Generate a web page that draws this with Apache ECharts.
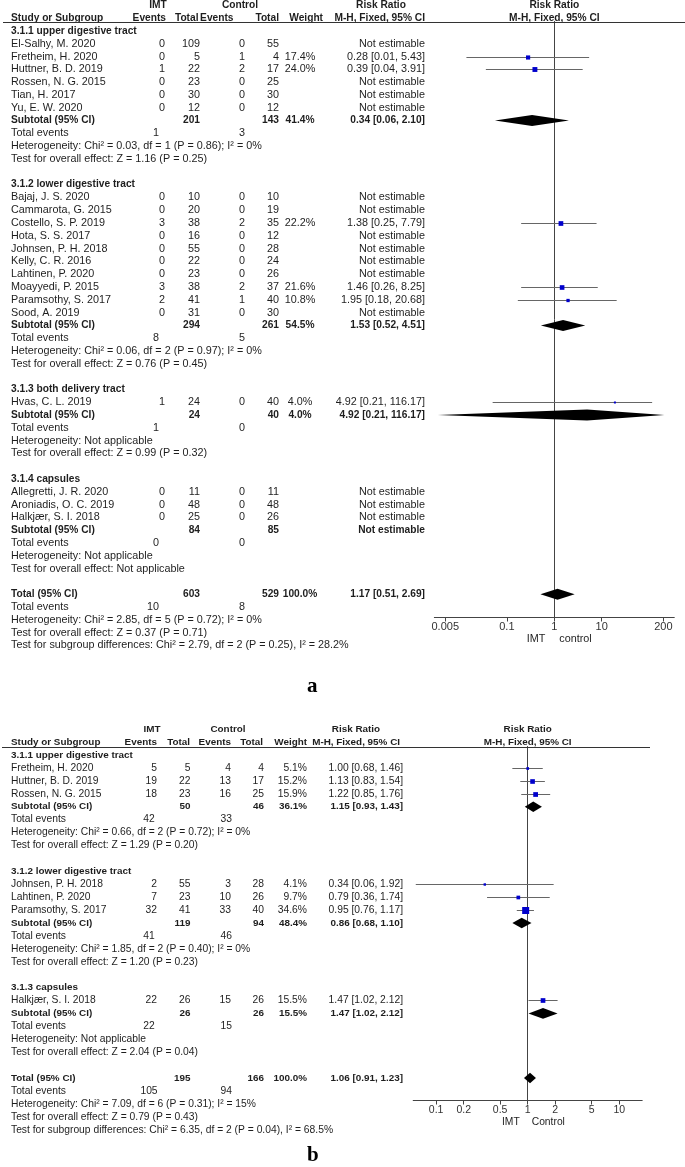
<!DOCTYPE html>
<html><head><meta charset="utf-8">
<script src="https://cdn.jsdelivr.net/npm/echarts@6/dist/echarts.min.js"></script>
<style>html,body{margin:0;padding:0;background:#fff}#c{width:685px;height:1167px}</style>
</head><body><div id="c"></div>
<script>
// ================= Plot a data =================
const aGroupNames = ['3.1.1 upper digestive tract','3.1.2 lower digestive tract','3.1.3 both delivery tract','3.1.4 capsules'];
const aStudyGroup = [0,0,0,0,0,0, 1,1,1,1,1,1,1,1,1,1, 2, 3,3,3];
const aStudyNames = ['El-Salhy, M. 2020','Fretheim, H. 2020','Huttner, B. D. 2019','Rossen, N. G. 2015','Tian, H. 2017','Yu, E. W. 2020',
  'Bajaj, J. S. 2020','Cammarota, G. 2015','Costello, S. P. 2019','Hota, S. S. 2017','Johnsen, P. H. 2018','Kelly, C. R. 2016','Lahtinen, P. 2020','Moayyedi, P. 2015','Paramsothy, S. 2017','Sood, A. 2019',
  'Hvas, C. L. 2019',
  'Allegretti, J. R. 2020','Aroniadis, O. C. 2019','Halkjær, S. I. 2018'];
const aImtEvents = [0,0,1,0,0,0, 0,0,3,0,0,0,0,3,2,0, 1, 0,0,0];
const aImtTotal  = [109,5,22,23,30,12, 10,20,38,16,55,22,23,38,41,31, 24, 11,48,25];
const aCtlEvents = [0,1,2,0,0,0, 0,0,2,0,0,0,0,2,1,0, 0, 0,0,0];
const aCtlTotal  = [55,4,17,25,30,12, 10,19,35,12,28,24,26,37,40,30, 40, 11,48,26];
const aWeight    = [null,17.4,24.0,null,null,null, null,null,22.2,null,null,null,null,21.6,10.8,null, 4.0, null,null,null];
const aCIText    = ['Not estimable','0.28 [0.01, 5.43]','0.39 [0.04, 3.91]','Not estimable','Not estimable','Not estimable',
  'Not estimable','Not estimable','1.38 [0.25, 7.79]','Not estimable','Not estimable','Not estimable','Not estimable','1.46 [0.26, 8.25]','1.95 [0.18, 20.68]','Not estimable',
  '4.92 [0.21, 116.17]',
  'Not estimable','Not estimable','Not estimable'];
// plotted marks
const aPoint = [null,0.28,0.39,null,null,null, null,null,1.38,null,null,null,null,1.46,1.95,null, 19, null,null,null];
const aLow   = [null,0.014,0.036,null,null,null, null,null,0.2,null,null,null,null,0.2,0.17,null, 0.05, null,null,null];
const aHigh  = [null,5.43,3.97,null,null,null, null,null,7.79,null,null,null,null,8.25,20.68,null, 116, null,null,null];
// subgroups
const aSubImtTotal = [201,294,24,84];
const aSubCtlTotal = [143,261,40,85];
const aSubWeight   = [41.4,54.5,4.0,null];
const aSubCIText   = ['0.34 [0.06, 2.10]','1.53 [0.52, 4.51]','4.92 [0.21, 116.17]','Not estimable'];
const aSubPoint    = [0.34,1.53,4.92,null];
const aSubLow      = [0.056,0.52,0.0035,null];
const aSubHigh     = [2.04,4.51,210,null];
const aSubImtEvents = [1,8,1,0];
const aSubCtlEvents = [3,5,0,0];
const aSubHet = ['Heterogeneity: Chi² = 0.03, df = 1 (P = 0.86); I² = 0%','Heterogeneity: Chi² = 0.06, df = 2 (P = 0.97); I² = 0%','Heterogeneity: Not applicable','Heterogeneity: Not applicable'];
const aSubEffect = ['Test for overall effect: Z = 1.16 (P = 0.25)','Test for overall effect: Z = 0.76 (P = 0.45)','Test for overall effect: Z = 0.99 (P = 0.32)','Test for overall effect: Not applicable'];
// total
const aTotalN = [603, 529];
const aTotalWeight = 100.0;
const aTotalCIText = '1.17 [0.51, 2.69]';
const aTotalCI = [0.51, 1.17, 2.69];
const aTotalEvents = [10, 8];
const aTotalLines = ['Heterogeneity: Chi² = 2.85, df = 5 (P = 0.72); I² = 0%','Test for overall effect: Z = 0.37 (P = 0.71)','Test for subgroup differences: Chi² = 2.79, df = 2 (P = 0.25), I² = 28.2%'];
const aTickLabels = ['0.005','0.1','1','10','200'];
const aFavours = ['IMT','control'];

// ================= Plot b data =================
const bGroupNames = ['3.1.1 upper digestive tract','3.1.2 lower digestive tract','3.1.3 capsules'];
const bStudyGroup = [0,0,0, 1,1,1, 2];
const bStudyNames = ['Fretheim, H. 2020','Huttner, B. D. 2019','Rossen, N. G. 2015','Johnsen, P. H. 2018','Lahtinen, P. 2020','Paramsothy, S. 2017','Halkjær, S. I. 2018'];
const bImtEvents = [5,19,18, 2,7,32, 22];
const bImtTotal  = [5,22,23, 55,23,41, 26];
const bCtlEvents = [4,13,16, 3,10,33, 15];
const bCtlTotal  = [4,17,25, 28,26,40, 26];
const bWeight    = [5.1,15.2,15.9, 4.1,9.7,34.6, 15.5];
const bCIText    = ['1.00 [0.68, 1.46]','1.13 [0.83, 1.54]','1.22 [0.85, 1.76]','0.34 [0.06, 1.92]','0.79 [0.36, 1.74]','0.95 [0.76, 1.17]','1.47 [1.02, 2.12]'];
const bPoint = [1.00,1.13,1.22, 0.34,0.79,0.95, 1.47];
const bLow   = [0.68,0.83,0.85, 0.06,0.36,0.76, 1.02];
const bHigh  = [1.46,1.54,1.76, 1.92,1.74,1.17, 2.12];
const bSubImtTotal = [50,119,26];
const bSubCtlTotal = [46,94,26];
const bSubWeight   = [36.1,48.4,15.5];
const bSubCIText   = ['1.15 [0.93, 1.43]','0.86 [0.68, 1.10]','1.47 [1.02, 2.12]'];
const bSubPoint    = [1.15,0.86,1.47];
const bSubLow      = [0.93,0.68,1.02];
const bSubHigh     = [1.43,1.10,2.12];
const bSubImtEvents = [42,41,22];
const bSubCtlEvents = [33,46,15];
const bSubHet = ['Heterogeneity: Chi² = 0.66, df = 2 (P = 0.72); I² = 0%','Heterogeneity: Chi² = 1.85, df = 2 (P = 0.40); I² = 0%','Heterogeneity: Not applicable'];
const bSubEffect = ['Test for overall effect: Z = 1.29 (P = 0.20)','Test for overall effect: Z = 1.20 (P = 0.23)','Test for overall effect: Z = 2.04 (P = 0.04)'];
const bTotalN = [195, 166];
const bTotalWeight = 100.0;
const bTotalCIText = '1.06 [0.91, 1.23]';
const bTotalCI = [0.91, 1.06, 1.23];
const bTotalEvents = [105, 94];
const bTotalLines = ['Heterogeneity: Chi² = 7.09, df = 6 (P = 0.31); I² = 15%','Test for overall effect: Z = 0.79 (P = 0.43)','Test for subgroup differences: Chi² = 6.35, df = 2 (P = 0.04), I² = 68.5%'];
const bTickLabels = ['0.1','0.2','0.5','1','2','5','10'];
const bFavours = ['IMT','Control'];

// ================= assemble =================
const plotA = {groups:aGroupNames, sg:aStudyGroup, names:aStudyNames, e1:aImtEvents, n1:aImtTotal, e2:aCtlEvents, n2:aCtlTotal, w:aWeight, ci:aCIText, pt:aPoint, lo:aLow, hi:aHigh,
  sN1:aSubImtTotal, sN2:aSubCtlTotal, sW:aSubWeight, sCI:aSubCIText, sPt:aSubPoint, sLo:aSubLow, sHi:aSubHigh, sE1:aSubImtEvents, sE2:aSubCtlEvents, sHet:aSubHet, sEff:aSubEffect,
  tN:aTotalN, tW:aTotalWeight, tCIText:aTotalCIText, tCI:aTotalCI, tE:aTotalEvents, tLines:aTotalLines, ticks:aTickLabels, fav:aFavours};
const plotB = {groups:bGroupNames, sg:bStudyGroup, names:bStudyNames, e1:bImtEvents, n1:bImtTotal, e2:bCtlEvents, n2:bCtlTotal, w:bWeight, ci:bCIText, pt:bPoint, lo:bLow, hi:bHigh,
  sN1:bSubImtTotal, sN2:bSubCtlTotal, sW:bSubWeight, sCI:bSubCIText, sPt:bSubPoint, sLo:bSubLow, sHi:bSubHigh, sE1:bSubImtEvents, sE2:bSubCtlEvents, sHet:bSubHet, sEff:bSubEffect,
  tN:bTotalN, tW:bTotalWeight, tCIText:bTotalCIText, tCI:bTotalCI, tE:bTotalEvents, tLines:bTotalLines, ticks:bTickLabels, fav:bFavours};

// layout (pixels)
const layA = {y0:31, pitch:12.8, ruleY:21.5, ruleX:[3,685], axisY:617.5, nullX:554.3, pxDec:47.4, halfDec:2.531,
  fs:10.8, fsBold:10.2, fsTick:11,
  name:11, e1:165, n1:200, e2:245, n2:279, w:300, wAlign:'center', ci:425, te1:159, te1Align:'right', te2:245,
  hdr:{imt:158, ctl:240, rr:381, e1:166, n1:198.5, e2:233.5, n2:279, w:323, ci:425}, sq:1.0, dia:5.5, favOff:[-9,5], favY:639};
const layB = {y0:755, pitch:12.92, ruleY:746.5, ruleX:[2,650], axisY:1100.5, nullX:527.7, pxDec:91.6, halfDec:1.25,
  fs:10.3, fsBold:9.9, fsTick:10.5,
  name:11, e1:157, n1:190.5, e2:231, n2:264, w:307, wAlign:'right', ci:403, te1:149, te1Align:'center', te2:232,
  hdr:{imt:152, ctl:228, rr:356, e1:157, n1:190, e2:231, n2:263, w:307, ci:400}, sq:1.19, dia:5.3, favOff:[-8,4], favY:1122};

const FONT = '"Liberation Sans", Arial, Helvetica, sans-serif';

function build(P, L) {
  const texts = [], marks = [];
  const T = (x, row, s, align, bold) => texts.push({x, row, s:String(s), align, bold:!!bold});
  T(L.hdr.imt, -2, 'IMT', 'center', 1);
  T(L.hdr.ctl, -2, 'Control', 'center', 1);
  T(L.hdr.rr, -2, 'Risk Ratio', 'center', 1);
  T(L.nullX, -2, 'Risk Ratio', 'center', 1);
  T(L.name, -1, 'Study or Subgroup', 'left', 1);
  T(L.hdr.e1, -1, 'Events', 'right', 1);
  T(L.hdr.n1, -1, 'Total', 'right', 1);
  T(L.hdr.e2, -1, 'Events', 'right', 1);
  T(L.hdr.n2, -1, 'Total', 'right', 1);
  T(L.hdr.w, -1, 'Weight', 'right', 1);
  T(L.hdr.ci, -1, 'M-H, Fixed, 95% CI', 'right', 1);
  T(L.nullX, -1, 'M-H, Fixed, 95% CI', 'center', 1);
  let r = 0;
  P.groups.forEach((g, gi) => {
    T(L.name, r, g, 'left', 1); r++;
    P.sg.forEach((sg, i) => {
      if (sg !== gi) return;
      T(L.name, r, P.names[i], 'left');
      T(L.e1, r, P.e1[i], 'right');
      T(L.n1, r, P.n1[i], 'right');
      T(L.e2, r, P.e2[i], 'right');
      T(L.n2, r, P.n2[i], 'right');
      if (P.w[i] != null) T(L.w, r, P.w[i].toFixed(1) + '%', L.wAlign);
      T(L.ci, r, P.ci[i], 'right');
      if (P.pt[i] != null) marks.push({lo:P.lo[i], pt:P.pt[i], hi:P.hi[i], row:r, w:P.w[i], kind:0});
      r++;
    });
    T(L.name, r, 'Subtotal (95% CI)', 'left', 1);
    T(L.n1, r, P.sN1[gi], 'right', 1);
    T(L.n2, r, P.sN2[gi], 'right', 1);
    if (P.sW[gi] != null) T(L.w, r, P.sW[gi].toFixed(1) + '%', L.wAlign, 1);
    T(L.ci, r, P.sCI[gi], 'right', 1);
    if (P.sPt[gi] != null) marks.push({lo:P.sLo[gi], pt:P.sPt[gi], hi:P.sHi[gi], row:r, kind:1});
    r++;
    T(L.name, r, 'Total events', 'left');
    T(L.te1, r, P.sE1[gi], L.te1Align);
    T(L.te2, r, P.sE2[gi], 'right');
    r++;
    T(L.name, r, P.sHet[gi], 'left'); r++;
    T(L.name, r, P.sEff[gi], 'left'); r++;
    r++;
  });
  T(L.name, r, 'Total (95% CI)', 'left', 1);
  T(L.n1, r, P.tN[0], 'right', 1);
  T(L.n2, r, P.tN[1], 'right', 1);
  T(L.w, r, P.tW.toFixed(1) + '%', L.wAlign, 1);
  T(L.ci, r, P.tCIText, 'right', 1);
  marks.push({lo:P.tCI[0], pt:P.tCI[1], hi:P.tCI[2], row:r, kind:1});
  r++;
  T(L.name, r, 'Total events', 'left');
  T(L.te1, r, P.tE[0], L.te1Align);
  T(L.te2, r, P.tE[1], 'right');
  r++;
  P.tLines.forEach(s => { T(L.name, r, s, 'left'); r++; });
  const favRow = (L.favY - L.y0) / L.pitch;
  T(L.nullX + L.favOff[0], favRow, P.fav[0], 'right');
  T(L.nullX + L.favOff[1], favRow, P.fav[1], 'left');
  return {texts, marks, rows:r};
}

const A = build(plotA, layA), B = build(plotB, layB);

const grids = [], xAxes = [], yAxes = [], series = [];
function addPlot(P, L, D) {
  const gi = grids.length;
  const rMin = -2.4, rMax = D.rows + 1;
  // table grid: x in pixel-like units
  grids.push({left:0, width:685, top:L.y0 + rMin * L.pitch, height:(rMax - rMin) * L.pitch, outerBoundsMode:'none', containLabel:false});
  xAxes.push({gridIndex:gi, type:'value', min:0, max:685, show:false});
  yAxes.push({gridIndex:gi, type:'value', min:rMin, max:rMax, inverse:true, show:false});
  // forest grid: x = log10(risk ratio)
  grids.push({left:L.nullX - L.halfDec * L.pxDec, width:2 * L.halfDec * L.pxDec, top:L.ruleY, height:L.axisY - L.ruleY, outerBoundsMode:'none', containLabel:false});
  const tickVals = P.ticks.map(t => Math.log10(parseFloat(t)));
  xAxes.push({gridIndex:gi + 1, type:'value', min:-L.halfDec, max:L.halfDec,
    axisLine:{show:true, onZero:false, lineStyle:{color:'#444', width:1}},
    axisTick:{show:true, length:4, customValues:tickVals, lineStyle:{color:'#444'}},
    axisLabel:{show:true, customValues:tickVals, margin:4, fontSize:L.fsTick, fontFamily:FONT, color:'#333',
      formatter:v => { let best = P.ticks[0], bd = 1e9; P.ticks.forEach(t => { const d = Math.abs(Math.log10(parseFloat(t)) - v); if (d < bd) { bd = d; best = t; } }); return best; }},
    splitLine:{show:false}});
  yAxes.push({gridIndex:gi + 1, type:'value', inverse:true,
    min:(L.ruleY - L.y0) / L.pitch, max:(L.axisY - L.y0) / L.pitch,
    axisLine:{show:true, onZero:true, lineStyle:{color:'#444', width:1}},
    axisTick:{show:false}, axisLabel:{show:false}, splitLine:{show:false}});

  const texts = D.texts;
  series.push({type:'custom', xAxisIndex:gi, yAxisIndex:gi, silent:true, clip:false,
    data:texts.map(t => [t.x, t.row]),
    renderItem:(params, api) => {
      const t = texts[params.dataIndex];
      const p = api.coord([t.x, t.row]);
      return {type:'text', x:p[0], y:p[1], silent:true,
        style:{text:t.s, textAlign:t.align, textVerticalAlign:'middle',
          font:(t.bold ? 'bold ' + L.fsBold : L.fs) + 'px ' + FONT, fill:'#1e1e1e'}};
    }});
  // header rule
  const ruleRow = (L.ruleY - L.y0) / L.pitch;
  series.push({type:'custom', xAxisIndex:gi, yAxisIndex:gi, silent:true, clip:false,
    data:[[L.ruleX[0], ruleRow, L.ruleX[1]]],
    renderItem:(params, api) => {
      const a = api.coord([api.value(0), api.value(1)]), b = api.coord([api.value(2), api.value(1)]);
      const y = Math.round(a[1]) + 0.5;
      return {type:'line', shape:{x1:a[0], y1:y, x2:b[0], y2:y}, style:{stroke:'#333', lineWidth:1}};
    }});
  const marks = D.marks;
  series.push({type:'custom', xAxisIndex:gi + 1, yAxisIndex:gi + 1, silent:true, clip:false,
    data:marks.map(m => [Math.log10(m.pt), m.row]),
    renderItem:(params, api) => {
      const m = marks[params.dataIndex];
      const lo = api.coord([Math.log10(m.lo), m.row]);
      const pt = api.coord([Math.log10(m.pt), m.row]);
      const hi = api.coord([Math.log10(m.hi), m.row]);
      if (m.kind === 0) {
        const y = Math.round(pt[1]) + 0.5;
        const s = L.sq * Math.sqrt(m.w);
        return {type:'group', children:[
          {type:'line', shape:{x1:lo[0], y1:y, x2:hi[0], y2:y}, style:{stroke:'#666', lineWidth:1}},
          {type:'rect', shape:{x:pt[0] - s / 2, y:y - s / 2, width:s, height:s}, style:{fill:'#0000cc'}}
        ]};
      }
      const h = L.dia;
      return {type:'polygon', shape:{points:[[lo[0], pt[1]], [pt[0], pt[1] - h], [hi[0], pt[1]], [pt[0], pt[1] + h]]}, style:{fill:'#000'}};
    }});
}
addPlot(plotA, layA, A);
addPlot(plotB, layB, B);

const chart = echarts.init(document.getElementById('c'), null, {renderer:'canvas', width:685, height:1167});
chart.setOption({
  animation:false,
  backgroundColor:'#ffffff',
  title:[
    {text:'a', left:302, top:671, textStyle:{fontFamily:'"Liberation Serif", "Times New Roman", serif', fontWeight:'bold', fontSize:21, color:'#000'}},
    {text:'b', left:302, top:1140, textStyle:{fontFamily:'"Liberation Serif", "Times New Roman", serif', fontWeight:'bold', fontSize:21, color:'#000'}}
  ],
  grid:grids, xAxis:xAxes, yAxis:yAxes, series:series
});
</script></body></html>
